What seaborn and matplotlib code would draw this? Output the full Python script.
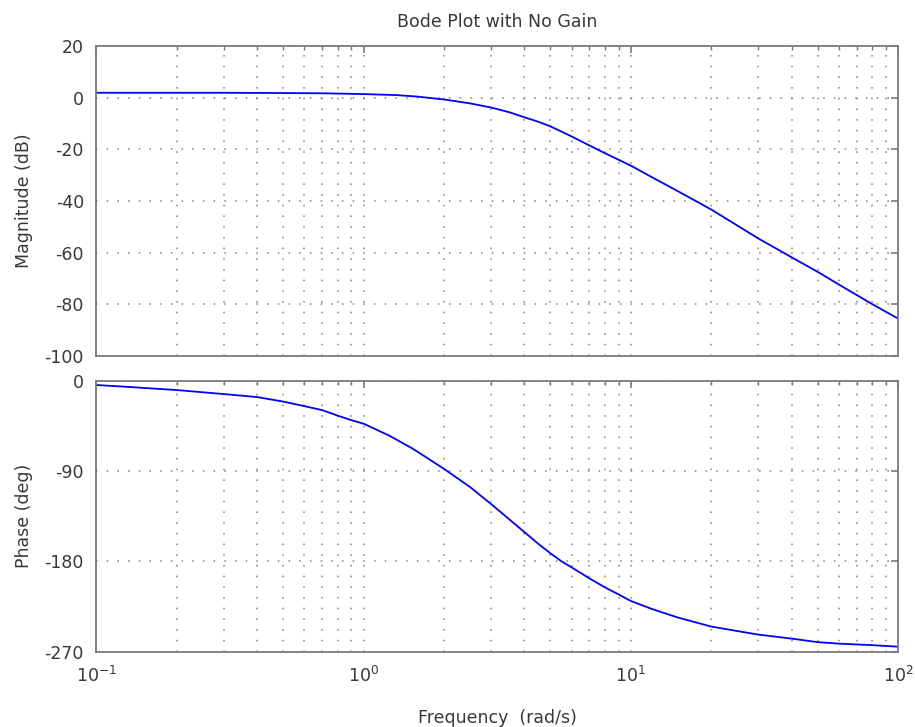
import matplotlib
matplotlib.use("Agg")
import matplotlib.pyplot as plt
import matplotlib.ticker as mticker
import seaborn as sns
import numpy as np

# values
freq_mag = [0.1, 0.3, 0.5, 0.7, 1.0, 1.33, 1.6, 2.0, 2.5, 3.0, 3.5, 4.0, 4.5, 5.0,
            6.0, 7.0, 8.0, 10, 12, 15, 20, 30, 40, 50, 60, 80, 100]
mag_db = [1.9, 1.9, 1.8, 1.7, 1.4, 1.0, 0.4, -0.7, -2.2, -3.8, -5.6, -7.6, -9.3, -11.1,
          -15.0, -18.5, -21.5, -26.3, -30.8, -36.2, -43.3, -54.5, -61.8, -67.4, -72.3, -79.9, -85.5]

freq_ph = [0.1, 0.125, 0.2, 0.3, 0.4, 0.5, 0.6, 0.7, 0.8, 0.9, 1.0, 1.25, 1.53,
           2.0, 2.5, 3.0, 3.5, 4.0, 4.5, 5.0, 5.5, 6.0, 7.0, 8.0, 9.0, 10, 12, 15, 20,
           30, 40, 50, 60, 80, 100]
phase_deg = [-4.5, -6, -9.5, -13.5, -16.5, -21, -25.5, -29.5, -35, -39.5, -43, -55, -68,
             -88, -106, -123, -138, -151, -162.5, -172, -180, -186, -197, -206, -213,
             -219.5, -227.5, -236, -245, -253, -257, -260.5, -262, -263.5, -265]

mag_ticks = [20, 0, -20, -40, -60, -80, -100]
phase_ticks = [0, -90, -180, -270]
freq_ticks = [0.1, 1, 10, 100]

title = "Bode Plot with No Gain"
xlabel = "Frequency  (rad/s)"

sns.set_style("white")
plt.rcParams['font.family'] = ['DejaVu Sans']
plt.rcParams['mathtext.fontset'] = 'dejavusans'
plt.rcParams['axes.unicode_minus'] = False

text_col = '#383838'
axis_col = '#7a7a7a'
grid_col = '#7f7f7f'
fs = 12.5

fig = plt.figure(figsize=(9.15, 7.27), dpi=100)
ax_mag = fig.add_axes([0.10536, 0.5103, 0.87606, 0.4264])
ax_ph = fig.add_axes([0.10536, 0.1036, 0.87606, 0.3730])

sns.lineplot(x=freq_mag, y=mag_db, ax=ax_mag, color='#0000ff', lw=1.3, sort=False)
sns.lineplot(x=freq_ph, y=phase_deg, ax=ax_ph, color='#0000ff', lw=1.3, sort=False)

for ax in (ax_mag, ax_ph):
    ax.set_xscale('log')
    ax.set_xlim(0.1, 100)
    ax.set_xticks(freq_ticks)
    ax.xaxis.set_minor_locator(mticker.LogLocator(base=10, subs=np.arange(2, 10), numticks=20))
    ax.xaxis.set_minor_formatter(mticker.NullFormatter())
    ax.tick_params(which='both', direction='in', top=True, right=True,
                   colors=axis_col, labelcolor=text_col, labelsize=fs)
    ax.tick_params(which='major', length=5, width=1.2)
    ax.tick_params(which='minor', length=3, width=1.0)
    ax.tick_params(axis='y', pad=9)
    ax.tick_params(axis='x', pad=10)
    ax.grid(True, which='major', axis='both', color=grid_col, lw=1.1, linestyle=(0, (1, 6)))
    ax.grid(True, which='minor', axis='x', color=grid_col, lw=1.1, linestyle=(0, (1, 6)))
    for s in ax.spines.values():
        s.set_color(axis_col)
        s.set_linewidth(1.3)
    ax.set_xlabel('')
    ax.set_ylabel('')

ax_mag.set_ylim(-100, 20)
ax_mag.set_yticks(mag_ticks)
ax_mag.tick_params(axis='x', labelbottom=False)

ax_ph.set_ylim(-270, 0)
ax_ph.set_yticks(phase_ticks)
ax_ph.xaxis.set_major_formatter(mticker.LogFormatterSciNotation())

cx = 0.10536 + 0.87606 / 2
fig.text(cx, 0.970, title, ha='center', va='center', fontsize=fs, color=text_col)
fig.text(cx, 0.0055, xlabel, ha='center', va='baseline', fontsize=fs, color=text_col)
fig.text(0.026, 0.7235, "Magnitude (dB)", rotation=90, ha='center', va='center',
         fontsize=fs, color=text_col)
fig.text(0.026, 0.290, "Phase (deg)", rotation=90, ha='center', va='center',
         fontsize=fs, color=text_col)

fig.savefig("out.png", dpi=100)
